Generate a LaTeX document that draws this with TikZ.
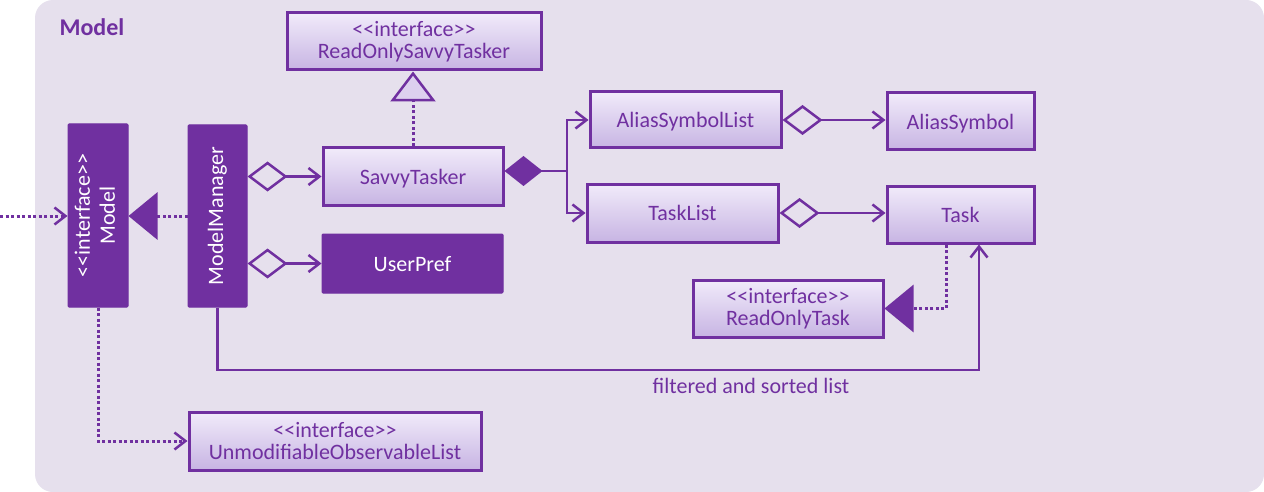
\documentclass[tikz,border=0pt]{standalone}
\usepackage{fontspec}
\setmainfont{Carlito}
\usetikzlibrary{arrows.meta}
\definecolor{purp}{HTML}{7030A0}
\definecolor{panel}{HTML}{E6E0ED}
\definecolor{boxtop}{HTML}{F1EBFA}
\definecolor{boxbot}{HTML}{C7B4E3}
\definecolor{trifill}{HTML}{DDD0EF}
\newcommand\ifc{<\kern0pt<interface>\kern0pt>}
\tikzset{
  lightbox/.style={draw=purp, line width=3pt, top color=boxtop, bottom color=boxbot,
    text=purp, inner sep=0pt, align=center, font=\fontsize{22}{22}\selectfont},
  darkbox/.style={draw=purp, fill=purp, line width=1pt, rounded corners=1pt,
    text=white, inner sep=0pt, align=center, font=\fontsize{22}{22}\selectfont},
  conn/.style={draw=purp, line width=2.5pt},
  dots/.style={draw=purp, line width=3pt, dash pattern=on 3pt off 2.5pt},
  barb/.style={-{Straight Barb[length=11pt,width=17pt,line width=2.5pt]}},
  dotbarb/.style={-{Straight Barb[length=11pt,width=17pt,line width=2.5pt,sep=0pt]}},
  dbarb/.style={{Diamond[open,length=40pt,width=30pt,line width=2.5pt]}-{Straight Barb[length=11pt,width=17pt,line width=2.5pt]}},
  fdiam/.style={{Diamond[length=38pt,width=30pt]}-},
  otri/.style={-{Triangle[length=30pt,width=45pt,fill=trifill,line width=2.5pt]}},
  ftri/.style={-{Triangle[length=29pt,width=47pt]}},
}
\begin{document}
\begin{tikzpicture}[x=1pt,y=-1pt]
\useasboundingbox (0,0) rectangle (1264,492);
\fill[white] (0,0) rectangle (1264,492);
\fill[panel, rounded corners=18pt] (35,0) rectangle (1264,492);
\node[anchor=base west, text=purp, font=\bfseries\fontsize{24}{24}\selectfont] (title) at (56,36) {Model};

\node[darkbox, minimum width=60pt, minimum height=183pt] (model) at (98,215.5)
  {\rotatebox{90}{\begin{tabular}{@{}c@{}}\ifc\\[3pt]Model\end{tabular}}};
\node[darkbox, minimum width=59pt, minimum height=182pt] (mm) at (217.5,216)
  {\rotatebox{90}{ModelManager}};
\node[lightbox, minimum width=254pt, minimum height=57pt] (rost) at (414,41.5)
  {\ifc\\ReadOnlySavvyTasker};
\node[lightbox, minimum width=180pt, minimum height=57pt, text depth=-2pt] (st) at (413,176.5) {SavvyTasker};
\node[darkbox, minimum width=181pt, minimum height=59pt, text depth=-2pt] (up) at (412.5,263.5) {UserPref};
\node[lightbox, minimum width=191pt, minimum height=56pt, text depth=-2pt] (asl) at (685.5,120) {AliasSymbolList};
\node[lightbox, minimum width=147pt, minimum height=57pt, text depth=-2pt] (as) at (960.5,121.5) {AliasSymbol};
\node[lightbox, minimum width=191pt, minimum height=58pt, text depth=-2pt] (tl) at (682.5,213) {TaskList};
\node[lightbox, minimum width=147pt, minimum height=57pt, text depth=-2pt] (task) at (960.5,214.5) {Task};
\node[lightbox, minimum width=190pt, minimum height=57pt] (rot) at (788,308.5) {\ifc\\ReadOnlyTask};
\node[lightbox, minimum width=292pt, minimum height=58pt] (uol) at (335,441)
  {\ifc\\UnmodifiableObservableList};

\coordinate (ext) at (0,216);
\coordinate (j) at (567,171);
\coordinate (bend) at (217.5,370);

\draw[dots, dotbarb] (ext) -- (model.west |- ext);
\draw[dots, ftri] (mm.west) -- (model.east |- mm.west);
\draw[conn, dbarb] (mm.east |- st.west) -- (st.west);
\draw[conn, dbarb] (mm.east |- up.west) -- (up.west);
\draw[dots, otri] (st.north) -- (st.north |- rost.south);
\draw[conn, fdiam] ([yshift=5.5pt]st.east) -- (j);
\draw[conn, barb] (j) |- (asl.west);
\draw[conn, barb] (j) |- (tl.west);
\draw[conn, dbarb] (asl.east) -- (asl.east -| as.west);
\draw[conn, dbarb] (tl.east) -- (tl.east -| task.west);
\draw[dots, ftri] ([xshift=-14.5pt]task.south) |- (rot.east);
\draw[conn, barb] (mm.south) -- (bend) -| ([xshift=18.5pt]task.south);
\node[text=purp, font=\fontsize{22}{22}\selectfont] (lbl) at (751,386) {filtered and sorted list};
\draw[dots, dotbarb] (model.south) |- (uol.west);
\end{tikzpicture}
\end{document}
